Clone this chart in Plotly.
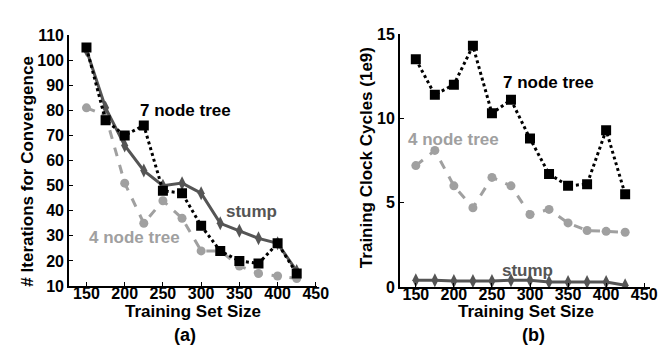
import plotly.graph_objects as go

x_sizes = [150, 175, 200, 225, 250, 275, 300, 325, 350, 375, 400, 425]

# (a) iterations for convergence
iter_7node = [105, 76, 70, 74, 48, 47, 34, 24, 20, 19, 27, 15]
iter_stump = [104, 81, 66, 56, 50, 51, 47, 35, 32, 29, 27, 16]
iter_4node = [81, 78, 51, 35, 44, 37, 24, 24, 18, 15, 14, 13]

# (b) training clock cycles (1e9)
cyc_7node = [13.5, 11.4, 12.0, 14.3, 10.3, 11.1, 8.8, 6.7, 6.0, 6.1, 9.3, 5.5]
cyc_4node = [7.2, 8.1, 6.0, 4.7, 6.5, 6.0, 4.3, 4.6, 3.8, 3.35, 3.3, 3.25]
cyc_stump = [0.4, 0.4, 0.35, 0.35, 0.35, 0.4, 0.4, 0.3, 0.3, 0.3, 0.3, 0.1]

BLACK = "#000000"
STUMP = "#555555"
FOUR = "#a0a0a0"
FONT = "Liberation Sans"

fig = go.Figure()

def add(x, y, color, dash, symbol, size, xa, ya):
    fig.add_trace(go.Scatter(
        x=x, y=y, mode="lines+markers", xaxis=xa, yaxis=ya,
        line=dict(color=color, width=3, dash=dash),
        marker=dict(color=color, symbol=symbol, size=size),
        showlegend=False))

# panel a
add(x_sizes, iter_4node, FOUR, "dash", "circle", 9, "x", "y")
add(x_sizes, iter_stump, STUMP, "solid", "diamond-tall", 10, "x", "y")
add(x_sizes, iter_7node, BLACK, "dot", "square", 10, "x", "y")
# panel b
add(x_sizes, cyc_4node, FOUR, "dash", "circle", 9, "x2", "y2")
add(x_sizes, cyc_stump, STUMP, "solid", "diamond-tall", 10, "x2", "y2")
add(x_sizes, cyc_7node, BLACK, "dot", "square", 10, "x2", "y2")

axis_common = dict(
    showline=True, linecolor="black", linewidth=1.5, ticks="inside",
    ticklen=4, tickcolor="black", showgrid=False, zeroline=False,
    tickfont=dict(family=FONT, size=16, color="black", weight="bold"),
)
xtick_extra = dict(ticklabelstandoff=-8)

W, H = 669, 346
fig.update_layout(
    width=W, height=H, margin=dict(l=0, r=0, t=0, b=0),
    plot_bgcolor="white", paper_bgcolor="white",
    xaxis=dict(domain=[62 / W, 315 / W], range=[127, 452],
               tickvals=[150, 200, 250, 300, 350, 400, 450], anchor="y",
               **xtick_extra, **axis_common),
    yaxis=dict(domain=[1 - 284 / H, 1 - 20 / H], range=[10, 110],
               tickvals=list(range(10, 111, 10)), anchor="x", **axis_common),
    xaxis2=dict(domain=[399 / W, 654 / W], range=[129, 458],
                tickvals=[150, 200, 250, 300, 350, 400, 450], anchor="y2",
                **xtick_extra, **axis_common),
    yaxis2=dict(domain=[1 - 285 / H, 1 - 19 / H], range=[0, 15],
                tickvals=[0, 5, 10, 15], anchor="x2", **axis_common),
)

def ann(text, x, y, color, xref, yref, size=17, angle=0):
    fig.add_annotation(text=text, x=x, y=y, xref=xref, yref=yref, showarrow=False,
                       textangle=angle, xanchor="center", yanchor="middle",
                       font=dict(family=FONT, size=size, color=color, weight="bold"))

# series labels
ann("7 node tree", 280, 80, BLACK, "x", "y")
ann("stump", 366, 39.6, STUMP, "x", "y")
ann("4 node tree", 213, 29.3, FOUR, "x", "y")
ann("7 node tree", 324, 12.1, BLACK, "x2", "y2")
ann("4 node tree", 200, 8.74, FOUR, "x2", "y2")
ann("stump", 297, 1.0, STUMP, "x2", "y2")

# axis titles (paper coords)
ann("Training Set Size", 188 / W, 1 - 311 / H, "black", "paper", "paper", size=17)
ann("Training Set Size", 527 / W, 1 - 311 / H, "black", "paper", "paper", size=17)
ann("# Iterations for Convergence", 20 / W, 1 - 163 / H, "black", "paper", "paper", size=17, angle=-90)
ann("Training Clock Cycles (1e9)", 365 / W, 1 - 149 / H, "black", "paper", "paper", size=17, angle=-90)
ann("(a)", 180 / W, 1 - 336 / H, "black", "paper", "paper", size=18)
ann("(b)", 535 / W, 1 - 336 / H, "black", "paper", "paper", size=18)

fig.write_html("out.html")
